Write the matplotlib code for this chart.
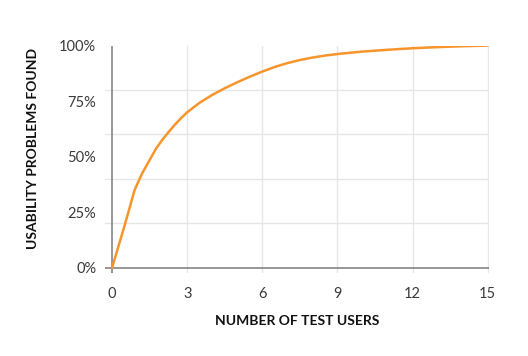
import matplotlib.pyplot as plt
import numpy as np

# values
users = [0, 0.5, 0.9, 1.2, 1.5, 1.75, 2, 2.25, 2.5, 2.75, 3, 3.5, 4, 4.5, 5, 5.5,
         6, 6.5, 7, 7.5, 8, 8.5, 9, 10, 11, 12, 13, 14, 15]
found = [0, 19, 35, 42.5, 48.5, 53.5, 57.5, 61, 64.3, 67.3, 70, 74.3, 77.8, 80.8, 83.5, 86,
         88.3, 90.4, 92.1, 93.5, 94.6, 95.5, 96.2, 97.3, 98.1, 98.8, 99.3, 99.7, 100]

x_ticks = [0, 3, 6, 9, 12, 15]
y_ticks = [0, 25, 50, 75, 100]
y_grid = [20, 40, 60, 80]

orange = '#f7952c'
axis_grey = '#7a7a7a'
grid_grey = '#e6e6e6'

plt.rcParams['font.family'] = ['Lato', 'DejaVu Sans']

fig = plt.figure(figsize=(5.28, 3.56), dpi=100)
ax = fig.add_axes([0.198, 0.232, 0.728, 0.640])

for gx in x_ticks[1:]:
    ax.axvline(gx, color=grid_grey, lw=1, zorder=1)
for gy in y_grid:
    ax.axhline(gy, color=grid_grey, lw=1, zorder=1)

ax.axhline(0, color=axis_grey, lw=1.1, zorder=2)
ax.axvline(0, color=axis_grey, lw=1.1, zorder=2)

ax.plot(users, found, color=orange, lw=1.8, zorder=3, solid_capstyle='round',
        solid_joinstyle='round')

ax.set_xlim(-0.3, 15.05)
ax.set_ylim(-2.5, 100)
ax.set_xticks(x_ticks)
ax.set_xticklabels([str(t) for t in x_ticks])
ax.set_yticks(y_ticks)
ax.set_yticklabels(['%d%%' % t for t in y_ticks])
ax.tick_params(length=0, labelsize=10.5, labelcolor='#3a3a3a', pad=10)
ax.tick_params(axis='y', pad=6)

for s in ax.spines.values():
    s.set_visible(False)

ax.set_xlabel('NUMBER OF TEST USERS', fontsize=10, fontweight='bold',
              color='#111111', labelpad=10)
ax.set_ylabel('USABILITY PROBLEMS FOUND', fontsize=10, fontweight='bold',
              color='#111111')
ax.yaxis.set_label_coords(-0.170, 0.55)

fig.savefig('out.png', dpi=100, facecolor='white')
